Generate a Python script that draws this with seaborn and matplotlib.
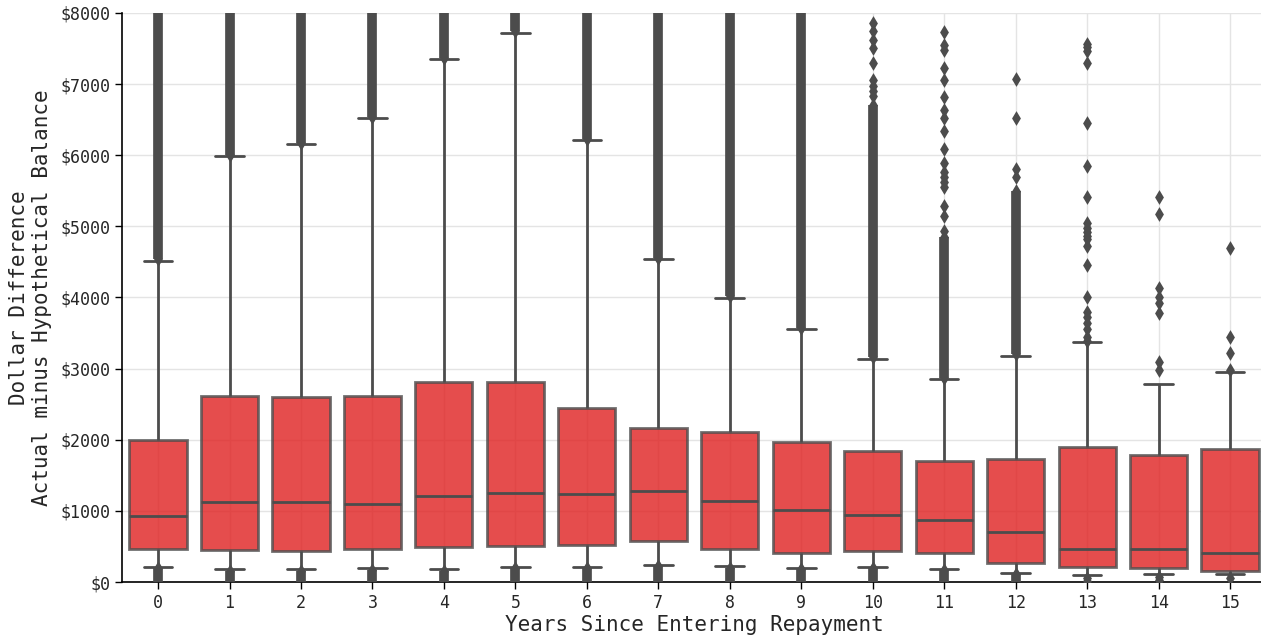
import numpy as np
import pandas as pd
import matplotlib
matplotlib.use("Agg")
import matplotlib.pyplot as plt
import seaborn as sns

# ---------------- data ----------------
years = list(range(16))
whisker_low = [211, 178, 178, 192, 178, 211, 211, 239, 220, 202, 211, 183, 127, 98, 108, 117]
q1 = [460, 450, 431, 460, 488, 502, 525, 572, 469, 413, 431, 413, 262, 206, 192, 155]
median = [932, 1125, 1129, 1097, 1214, 1256, 1233, 1275, 1134, 1017, 937, 872, 698, 464, 459, 413]
q3 = [2000, 2620, 2606, 2615, 2817, 2812, 2447, 2170, 2114, 1968, 1837, 1701, 1734, 1898, 1781, 1870]
whisker_high = [4518, 5990, 6154, 6520, 7349, 7724, 6215, 4536, 3998, 3553, 3136, 2854, 3178, 3370, 2789, 2948]

# dense runs of outliers (too many points to read one by one): start / end values
upper_dense_low = [4540, 6010, 6175, 6540, 7370, 7745, 6235, 4555, 4020, 3575, 3160, 2875, 3200, None, None, None]
upper_dense_high = [8000, 8000, 8000, 8000, 8000, 8000, 8000, 8000, 8000, 8000, 6700, 4850, 5500, None, None, None]
lower_dense_low = [0, 0, 0, 0, 0, 0, 0, 0, 0, 0, 0, 0, 0, None, None, None]
lower_dense_high = [190, 160, 160, 172, 160, 190, 190, 218, 200, 182, 190, 163, 110, None, None, None]

# individual outliers that can be read
sparse_outliers = {
    10: [6830, 6900, 6980, 7060, 7300, 7510, 7620, 7740, 7860],
    11: [4930, 5140, 5280, 5560, 5620, 5700, 5760, 5890, 6090, 6340, 6520, 6640,
         6820, 7060, 7220, 7480, 7550, 7730],
    12: [5700, 5800, 6520, 7070],
    13: [20, 60, 3390, 3450, 3560, 3640, 3720, 3790, 4000, 4460, 4720, 4820, 4870,
         4920, 4980, 5050, 5410, 5850, 6460, 7290, 7470, 7520, 7570],
    14: [25, 70, 2980, 3100, 3780, 3920, 4010, 4130, 5180, 5410],
    15: [55, 2980, 3220, 3450, 4700],
}

# ---------------- build tables ----------------
# seven values per year whose quartiles / extremes equal the box statistics
box_rows = []
for i, y in enumerate(years):
    for v in (whisker_low[i], q1[i], q1[i], median[i], q3[i], q3[i], whisker_high[i]):
        box_rows.append({"year": y, "value": v})
box_df = pd.DataFrame(box_rows)

flier_rows = []
for i, y in enumerate(years):
    for v in sparse_outliers.get(y, []):
        flier_rows.append({"year": y, "value": v})
    if upper_dense_low[i] is not None:
        flier_rows.append({"year": y, "value": upper_dense_low[i]})
        if upper_dense_high[i] < 8000:
            flier_rows.append({"year": y, "value": upper_dense_high[i]})
    if lower_dense_high[i] is not None:
        flier_rows.append({"year": y, "value": lower_dense_high[i]})
flier_df = pd.DataFrame(flier_rows)

# ---------------- plot ----------------
sns.set_style("ticks")
plt.rcParams["font.family"] = ["DejaVu Sans Mono"]

line_color = "#4c4c4c"
fig = plt.figure(figsize=(12.61, 6.44), dpi=100)
ax = fig.add_axes([122.3 / 1261, 62 / 644, 1143.5 / 1261, 569 / 644])

sns.boxplot(data=box_df, x="year", y="value", order=years, color="red",
            saturation=0.75, width=0.8, whis=(0, 100), showfliers=False,
            linewidth=2, linecolor=line_color, boxprops=dict(alpha=0.8), ax=ax)

# dense outlier runs
for i, y in enumerate(years):
    if upper_dense_low[i] is not None:
        ax.vlines(i, upper_dense_low[i], upper_dense_high[i], color=line_color,
                  linewidth=7.0, zorder=3)
    if lower_dense_high[i] is not None:
        ax.vlines(i, lower_dense_low[i], lower_dense_high[i], color=line_color,
                  linewidth=7.0, zorder=3)

sns.stripplot(data=flier_df, x="year", y="value", order=years, jitter=False,
              marker="d", size=7.5, color=line_color, linewidth=0, zorder=4, ax=ax)

ax.set_xlim(-0.5, 15.5)
ax.set_ylim(0, 8000)
ax.set_axisbelow(True)
ax.xaxis.grid(True, color="#e4e4e4", linewidth=1)
ax.yaxis.grid(True, color="#e4e4e4", linewidth=1)
ax.set_yticks(range(0, 8001, 1000))
ax.set_yticklabels([f"${v}" for v in range(0, 8001, 1000)])
ax.tick_params(axis="both", labelsize=12, color="black", length=5, width=1)
ax.set_xlabel("Years Since Entering Repayment", fontsize=15, labelpad=2)
ax.set_ylabel("Dollar Difference\nActual minus Hypothetical Balance", fontsize=15,
              labelpad=6)
for s in ("left", "bottom"):
    ax.spines[s].set_color("black")
    ax.spines[s].set_linewidth(1.2)
sns.despine(ax=ax)

fig.savefig("out.png", dpi=100)
